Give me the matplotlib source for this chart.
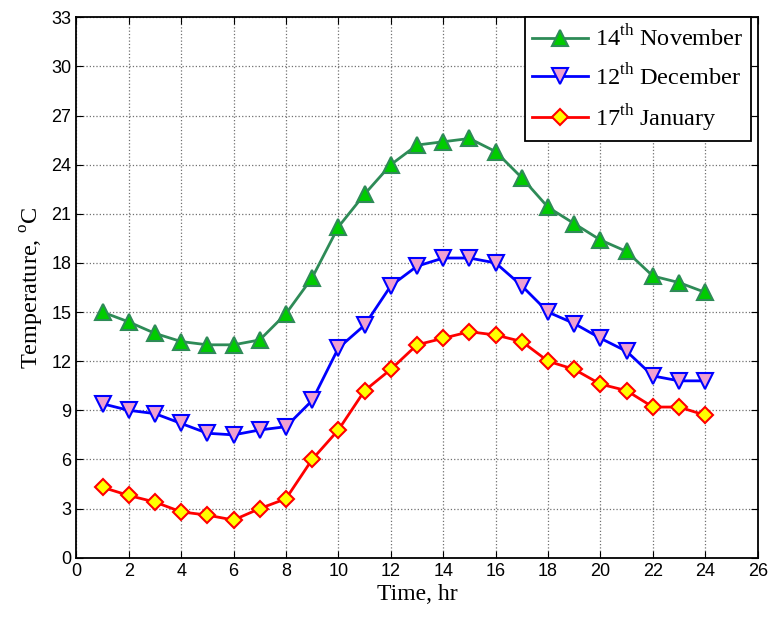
import matplotlib
matplotlib.use("Agg")
import matplotlib.pyplot as plt

hours = list(range(1, 25))
nov14 = [15.0, 14.4, 13.7, 13.2, 13.0, 13.0, 13.3, 14.9, 17.1, 20.2, 22.2, 24.0,
         25.2, 25.4, 25.6, 24.8, 23.2, 21.4, 20.4, 19.4, 18.7, 17.2, 16.8, 16.2]
dec12 = [9.4, 9.0, 8.8, 8.2, 7.6, 7.5, 7.8, 8.0, 9.6, 12.8, 14.2, 16.6,
         17.8, 18.3, 18.3, 18.0, 16.6, 15.0, 14.3, 13.4, 12.6, 11.1, 10.8, 10.8]
jan17 = [4.3, 3.8, 3.4, 2.8, 2.6, 2.3, 3.0, 3.6, 6.0, 7.8, 10.2, 11.5,
         13.0, 13.4, 13.8, 13.6, 13.2, 12.0, 11.5, 10.6, 10.2, 9.2, 9.2, 8.7]
labels = ['14$^{\\rm th}$ November', '12$^{\\rm th}$ December', '17$^{\\rm th}$ January']
xticks = list(range(0, 27, 2))
yticks = list(range(0, 34, 3))

plt.rcParams['font.family'] = ['Liberation Serif']
plt.rcParams['mathtext.fontset'] = 'custom'
plt.rcParams['mathtext.rm'] = 'Liberation Serif'

fig = plt.figure(figsize=(7.71, 6.17), dpi=100)
ax = fig.add_axes([76.3 / 771, 1 - 557.7 / 617, 681.4 / 771, 540.4 / 617])

ax.plot(hours, nov14, color='#2E8B57', lw=2, marker='^', ms=12,
        mfc='#00CC00', mec='#2E8B57', mew=1.5, label=labels[0])
ax.plot(hours, dec12, color='#0000FF', lw=2, marker='v', ms=12,
        mfc='#F0A0D0', mec='#0000FF', mew=1.5, label=labels[1])
ax.plot(hours, jan17, color='#FF0000', lw=2, marker='D', ms=8,
        mfc='#FFFF00', mec='#FF0000', mew=1.5, label=labels[2])

ax.set_xlim(0, 26)
ax.set_ylim(0, 33)
ax.set_xticks(xticks)
ax.set_yticks(yticks)
ax.tick_params(direction='in', top=True, right=True, labelsize=13, length=5)
for lab in ax.get_xticklabels() + ax.get_yticklabels():
    lab.set_family('Liberation Sans')
ax.grid(True, linestyle=':', color='#707070', lw=0.9)
for s in ax.spines.values():
    s.set_linewidth(1.3)

ax.set_xlabel('Time, hr', fontsize=17, labelpad=3)
ax.set_ylabel('Temperature, $^{\\rm o}$C', fontsize=17.5, labelpad=4)

leg = ax.legend(loc='upper right', bbox_to_anchor=(0.990, 1.0), fontsize=17.5,
                fancybox=False, framealpha=1, edgecolor='black', borderaxespad=0,
                handlelength=2.3, handletextpad=0.3, labelspacing=0.5,
                borderpad=0.3)
leg.get_frame().set_linewidth(1.3)

fig.savefig('out.png', dpi=100)
